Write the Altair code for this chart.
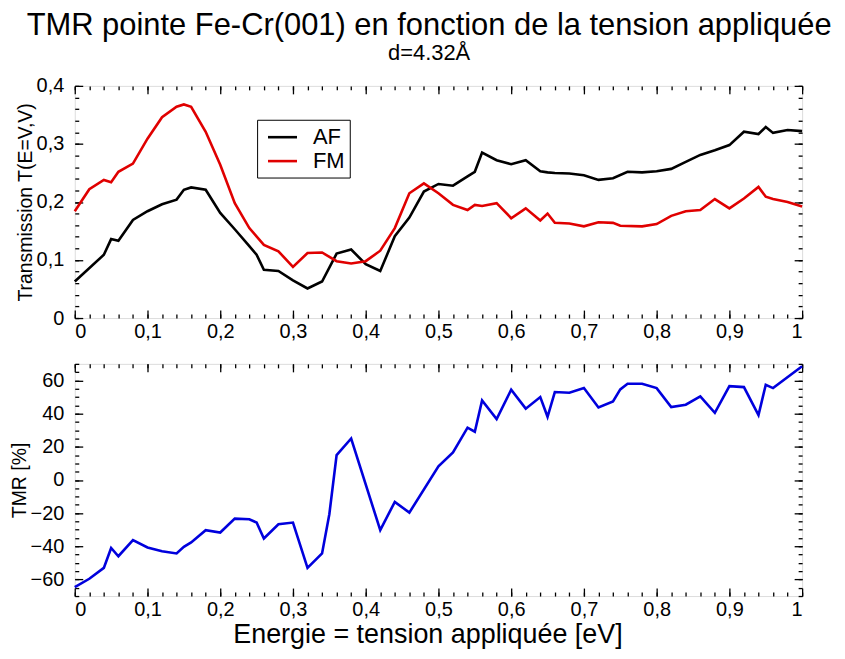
import altair as alt
import pandas as pd

FONT = "Liberation Sans"

# ---- data ----
e_af = [0.00, 0.04, 0.05, 0.06, 0.08, 0.10, 0.12, 0.14, 0.15, 0.16, 0.18, 0.20, 0.22, 0.24, 0.25,
        0.26, 0.28, 0.30, 0.32, 0.34, 0.36, 0.38, 0.40, 0.42, 0.44, 0.46, 0.48, 0.50, 0.52, 0.54,
        0.55, 0.56, 0.58, 0.60, 0.62, 0.64, 0.65, 0.66, 0.68, 0.70, 0.72, 0.74, 0.76, 0.78, 0.80,
        0.82, 0.84, 0.86, 0.88, 0.90, 0.92, 0.94, 0.95, 0.96, 0.98, 1.00]
t_af = [0.063, 0.109, 0.136, 0.133, 0.169, 0.184, 0.196, 0.204, 0.221, 0.225, 0.221, 0.181, 0.153, 0.124, 0.109,
        0.083, 0.081, 0.065, 0.051, 0.063, 0.111, 0.118, 0.093, 0.081, 0.141, 0.173, 0.218, 0.231, 0.228, 0.244,
        0.252, 0.285, 0.272, 0.265, 0.272, 0.253, 0.251, 0.250, 0.249, 0.246, 0.238, 0.241, 0.252, 0.251, 0.253,
        0.257, 0.269, 0.281, 0.289, 0.298, 0.321, 0.317, 0.329, 0.319, 0.324, 0.322]

e_fm = [0.00, 0.02, 0.04, 0.05, 0.06, 0.08, 0.10, 0.12, 0.14, 0.15, 0.16, 0.18, 0.20, 0.22, 0.24,
        0.26, 0.28, 0.30, 0.32, 0.34, 0.36, 0.38, 0.40, 0.42, 0.44, 0.46, 0.48, 0.50, 0.52, 0.54,
        0.55, 0.56, 0.58, 0.60, 0.62, 0.64, 0.65, 0.66, 0.68, 0.70, 0.72, 0.74, 0.75, 0.78, 0.80,
        0.82, 0.84, 0.86, 0.88, 0.90, 0.92, 0.94, 0.95, 0.96, 0.98, 1.00]
t_fm = [0.184, 0.222, 0.238, 0.234, 0.252, 0.266, 0.309, 0.346, 0.364, 0.368, 0.364, 0.321, 0.264, 0.198, 0.155,
        0.126, 0.115, 0.088, 0.112, 0.113, 0.098, 0.094, 0.098, 0.116, 0.155, 0.215, 0.232, 0.215, 0.195, 0.186,
        0.195, 0.193, 0.198, 0.172, 0.189, 0.168, 0.180, 0.164, 0.163, 0.158, 0.165, 0.164, 0.159, 0.158, 0.162,
        0.176, 0.184, 0.186, 0.205, 0.189, 0.206, 0.226, 0.209, 0.205, 0.200, 0.192]

e_tmr = [0.00, 0.02, 0.04, 0.05, 0.06, 0.08, 0.10, 0.12, 0.14, 0.15, 0.16, 0.18, 0.20, 0.22, 0.24,
         0.25, 0.26, 0.28, 0.30, 0.32, 0.34, 0.35, 0.36, 0.38, 0.42, 0.44, 0.46, 0.50, 0.52, 0.54,
         0.55, 0.56, 0.58, 0.60, 0.62, 0.64, 0.65, 0.66, 0.68, 0.70, 0.72, 0.74, 0.75, 0.76, 0.78,
         0.80, 0.82, 0.84, 0.86, 0.88, 0.90, 0.92, 0.94, 0.95, 0.96, 1.00]
tmr = [-64.6, -59.6, -53.0, -41.0, -46.0, -36.3, -40.7, -43.0, -44.3, -40.3, -37.7, -30.3, -31.7, -23.3, -23.7,
       -25.7, -35.3, -26.7, -25.7, -53.0, -44.3, -20.7, 15.0, 25.0, -30.3, -13.2, -19.7, 8.2, 16.6, 31.5,
       29.1, 48.0, 36.7, 54.4, 43.0, 50.0, 38.1, 53.0, 52.6, 55.4, 43.7, 47.4, 54.6, 58.0, 58.0,
       55.4, 44.0, 45.4, 50.4, 40.5, 56.6, 56.0, 39.1, 57.4, 55.4, 68.6]

series_names = ["AF", "FM"]
series_colors = ["#000000", "#e00000"]
tmr_color = "#0000dd"

# ---- tick values ----
x_major = [0, 0.1, 0.2, 0.3, 0.4, 0.5, 0.6, 0.7, 0.8, 0.9, 1]
x_minor = [0, 0.02, 0.04, 0.06, 0.08, 0.1, 0.12, 0.14, 0.16, 0.18, 0.2, 0.22, 0.24, 0.26, 0.28, 0.3,
           0.32, 0.34, 0.36, 0.38, 0.4, 0.42, 0.44, 0.46, 0.48, 0.5, 0.52, 0.54, 0.56, 0.58, 0.6,
           0.62, 0.64, 0.66, 0.68, 0.7, 0.72, 0.74, 0.76, 0.78, 0.8, 0.82, 0.84, 0.86, 0.88, 0.9,
           0.92, 0.94, 0.96, 0.98, 1]
yt_major = [0, 0.1, 0.2, 0.3, 0.4]
yt_minor = [0, 0.02, 0.04, 0.06, 0.08, 0.1, 0.12, 0.14, 0.16, 0.18, 0.2, 0.22, 0.24, 0.26, 0.28,
            0.3, 0.32, 0.34, 0.36, 0.38, 0.4]
yb_major = [-60, -40, -20, 0, 20, 40, 60]
yb_minor = [-70, -65, -60, -55, -50, -45, -40, -35, -30, -25, -20, -15, -10, -5, 0, 5, 10, 15, 20,
            25, 30, 35, 40, 45, 50, 55, 60, 65, 70]

LBL = "replace(format(datum.value, '~g'), '.', ',')"

df_t = pd.concat([
    pd.DataFrame({"E": e_af, "V": t_af, "serie": "AF"}),
    pd.DataFrame({"E": e_fm, "V": t_fm, "serie": "FM"}),
], ignore_index=True)
df_m = pd.DataFrame({"E": e_tmr, "V": tmr})

W, H = 730, 233
MAJ, MIN = 8, 4


def tick_axis(orient, values, size):
    return alt.Axis(orient=orient, values=values, labels=False, domain=False, grid=False,
                    ticks=True, tickSize=size, offset=-size, tickColor="black",
                    tickWidth=1.3, title=None)


def panel(data, line, ydomain, ymaj, ymin, ytitle, ytitle_pad, xtitle=None):
    xs = alt.Scale(domain=[0, 1], nice=False, zero=False)
    ys = alt.Scale(domain=ydomain, nice=False, zero=False)
    xaxis_kw = dict(orient="bottom", values=x_major, labelExpr=LBL, ticks=False, tickSize=0,
                    domain=False, grid=False, labelFontSize=20, labelPadding=4,
                    labelFont=FONT, labelColor="black")
    if xtitle:
        xaxis_kw.update(title=xtitle, titleFontSize=27, titleFont=FONT,
                        titleFontWeight="normal", titleColor="black", titlePadding=2,
                        titleX=354)
    else:
        xaxis_kw.update(title=None)
    main = line.encode(
        x=alt.X("E:Q", scale=xs, axis=alt.Axis(**xaxis_kw)),
        y=alt.Y("V:Q", scale=ys, axis=alt.Axis(
            orient="left", values=ymaj, labelExpr=LBL, ticks=False, tickSize=0, domain=False,
            grid=False, labelFontSize=20, labelPadding=11, labelFont=FONT, labelColor="black",
            title=ytitle, titleFontSize=19.5, titleFont=FONT, titleFontWeight="normal",
            titleColor="black", titlePadding=ytitle_pad)),
    )
    layers = [main]
    for xo, yo, size, xv, yv in [("bottom", "left", MAJ, x_major, ymaj),
                                 ("bottom", "left", MIN, x_minor, ymin),
                                 ("top", "right", MAJ, x_major, ymaj),
                                 ("top", "right", MIN, x_minor, ymin)]:
        layers.append(alt.Chart(data).mark_line(strokeOpacity=0).encode(
            x=alt.X("E:Q", scale=xs, axis=tick_axis(xo, xv, size)),
            y=alt.Y("V:Q", scale=ys, axis=tick_axis(yo, yv, size)),
        ))
    return alt.layer(*layers).resolve_axis(x="independent", y="independent").properties(
        width=W, height=H)


top_line = alt.Chart(df_t).mark_line(strokeWidth=2.6).encode(
    color=alt.Color("serie:N",
                    scale=alt.Scale(domain=series_names, range=series_colors),
                    legend=alt.Legend(
                        title=None, orient="none", legendX=183, legendY=34,
                        strokeColor="black", padding=5,
                        symbolType="M-1.3,0H1.3", symbolSize=500, symbolStrokeWidth=2.6,
                        symbolOffset=8,
                        labelFontSize=22, labelFont=FONT, labelColor="black",
                        labelOffset=18, rowPadding=0, fillColor="white")),
    order="E:Q",
)
bot_line = alt.Chart(df_m).mark_line(strokeWidth=2.6, color=tmr_color).encode(order="E:Q")

top = panel(df_t, top_line, [0, 0.4], yt_major, yt_minor, "Transmission T(E=V,V)", 1)
bot = panel(df_m, bot_line, [-70, 70], yb_major, yb_minor, "TMR [%]", 1,
            xtitle="Energie = tension appliquée [eV]")

chart = alt.vconcat(top, bot, spacing=17).properties(
    title=alt.TitleParams(
        text="TMR pointe Fe-Cr(001) en fonction de la tension appliquée",
        subtitle="d=4.32Å",
        fontSize=31, subtitleFontSize=22, font=FONT, subtitleFont=FONT,
        fontWeight="normal", color="black", subtitleColor="black",
        anchor="middle", subtitlePadding=2, offset=10, dx=21),
    padding={"left": 0, "right": 5, "top": 0, "bottom": 0},
).configure_view(stroke="black", strokeWidth=1.5).configure(background="white")

chart.save("out.html", embed_options={"renderer": "svg", "actions": False})
